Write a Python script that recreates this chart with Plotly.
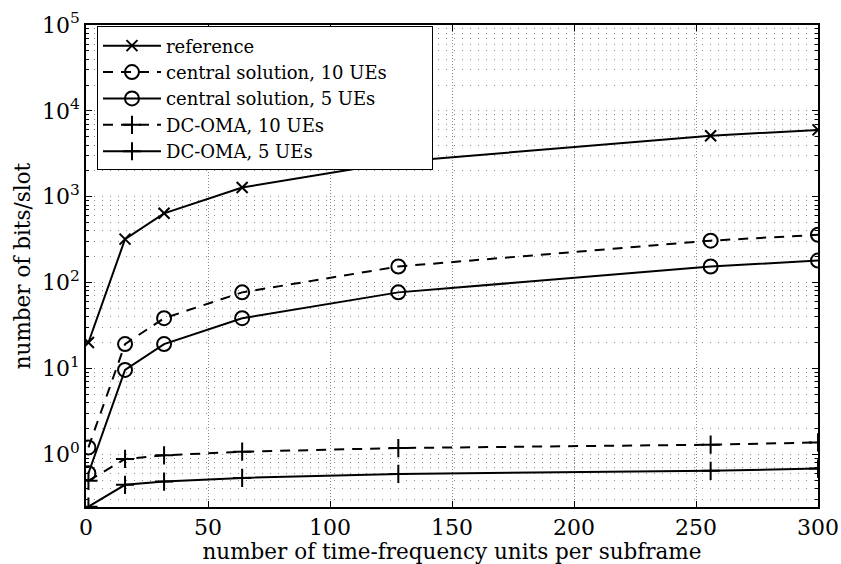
import numpy as np
import plotly.graph_objects as go

# Number of time-frequency units per subframe
units = [1, 16, 32, 64, 128, 256, 300]

# Bits per slot for each scheme
reference = [20, 320, 640, 1280, 2560, 5120, 6000]
central_10 = [1.2, 19.2, 38.4, 76.8, 153.6, 307.2, 360]
central_5 = [0.6, 9.6, 19.2, 38.4, 76.8, 153.6, 180]
dcoma_10 = [0.49, 0.88, 0.97, 1.07, 1.18, 1.29, 1.37]
dcoma_5 = [0.245, 0.44, 0.48, 0.53, 0.59, 0.64, 0.68]

names = ["reference", "central solution, 10 UEs", "central solution, 5 UEs",
         "DC-OMA, 10 UEs", "DC-OMA, 5 UEs"]

x_ticks = [0, 50, 100, 150, 200, 250, 300]
y_decades = [0, 1, 2, 3, 4, 5]

FONT = "DejaVu Serif"
DASH = "10px,8px"
# trailing blank room so the legend box is as wide as a LaTeX-style legend
PAD = "\u00a0" * 7

series = [
    (reference, names[0], "solid", "x-thin-open", 11),
    (central_10, names[1] + PAD, DASH, "circle-open", 14),
    (central_5, names[2], "solid", "circle-open", 14),
    (dcoma_10, names[3], DASH, "cross-thin-open", 13),
    (dcoma_5, names[4], "solid", "cross-thin-open", 13),
]

fig = go.Figure()
for vals, name, dash, symbol, size in series:
    fig.add_trace(go.Scatter(
        x=units, y=vals, mode="lines+markers",
        name=name,
        line=dict(color="black", width=2, dash=dash),
        marker=dict(symbol=symbol, size=size, color="black",
                    line=dict(color="black", width=2)),
    ))

minor_vals = [m * 10 ** d for d in range(-1, 5) for m in range(2, 10)]

fig.update_layout(
    width=841, height=564,
    margin=dict(l=86, r=23, t=25, b=57, autoexpand=False),
    paper_bgcolor="white", plot_bgcolor="white",
    font=dict(family=FONT, size=22, color="black"),
    showlegend=True,
    legend=dict(
        x=0.015, y=0.997, xanchor="left", yanchor="top",
        bgcolor="white", bordercolor="black", borderwidth=1,
        font=dict(family=FONT, size=18, color="black"),
        itemwidth=58, tracegroupgap=0,
    ),
    xaxis=dict(
        automargin=False,
        range=[0, 300], tickmode="array", tickvals=x_ticks,
        ticktext=[str(v) for v in x_ticks],
        ticks="inside", ticklen=6, tickwidth=1, tickcolor="black",
        showline=True, linecolor="black", linewidth=1.5, mirror="ticks",
        showgrid=True, gridcolor="#888", gridwidth=1, griddash="1px,2px",
        zeroline=False,
        title=dict(text="number of time-frequency units per subframe",
                   font=dict(family=FONT, size=21.5), standoff=0),
        tickfont=dict(family=FONT, size=22),
    ),
    yaxis=dict(
        automargin=False,
        type="log", range=[-0.615, 5],
        tickmode="array", tickvals=[10 ** d for d in y_decades],
        ticktext=[f"10<sup>{d}</sup>" for d in y_decades],
        ticks="inside", ticklen=6, tickwidth=1, tickcolor="black",
        showline=True, linecolor="black", linewidth=1.5, mirror="ticks",
        showgrid=True, gridcolor="#888", gridwidth=1, griddash="1px,7px",
        zeroline=False,
        minor=dict(tickmode="array", tickvals=minor_vals, ticks="inside",
                   ticklen=3, tickcolor="black", showgrid=True,
                   gridcolor="#888", gridwidth=1, griddash="1px,7px"),
        title=dict(text="number of bits/slot",
                   font=dict(family=FONT, size=21.5), standoff=6),
        tickfont=dict(family=FONT, size=22),
    ),
)

fig.write_html("out.html")
